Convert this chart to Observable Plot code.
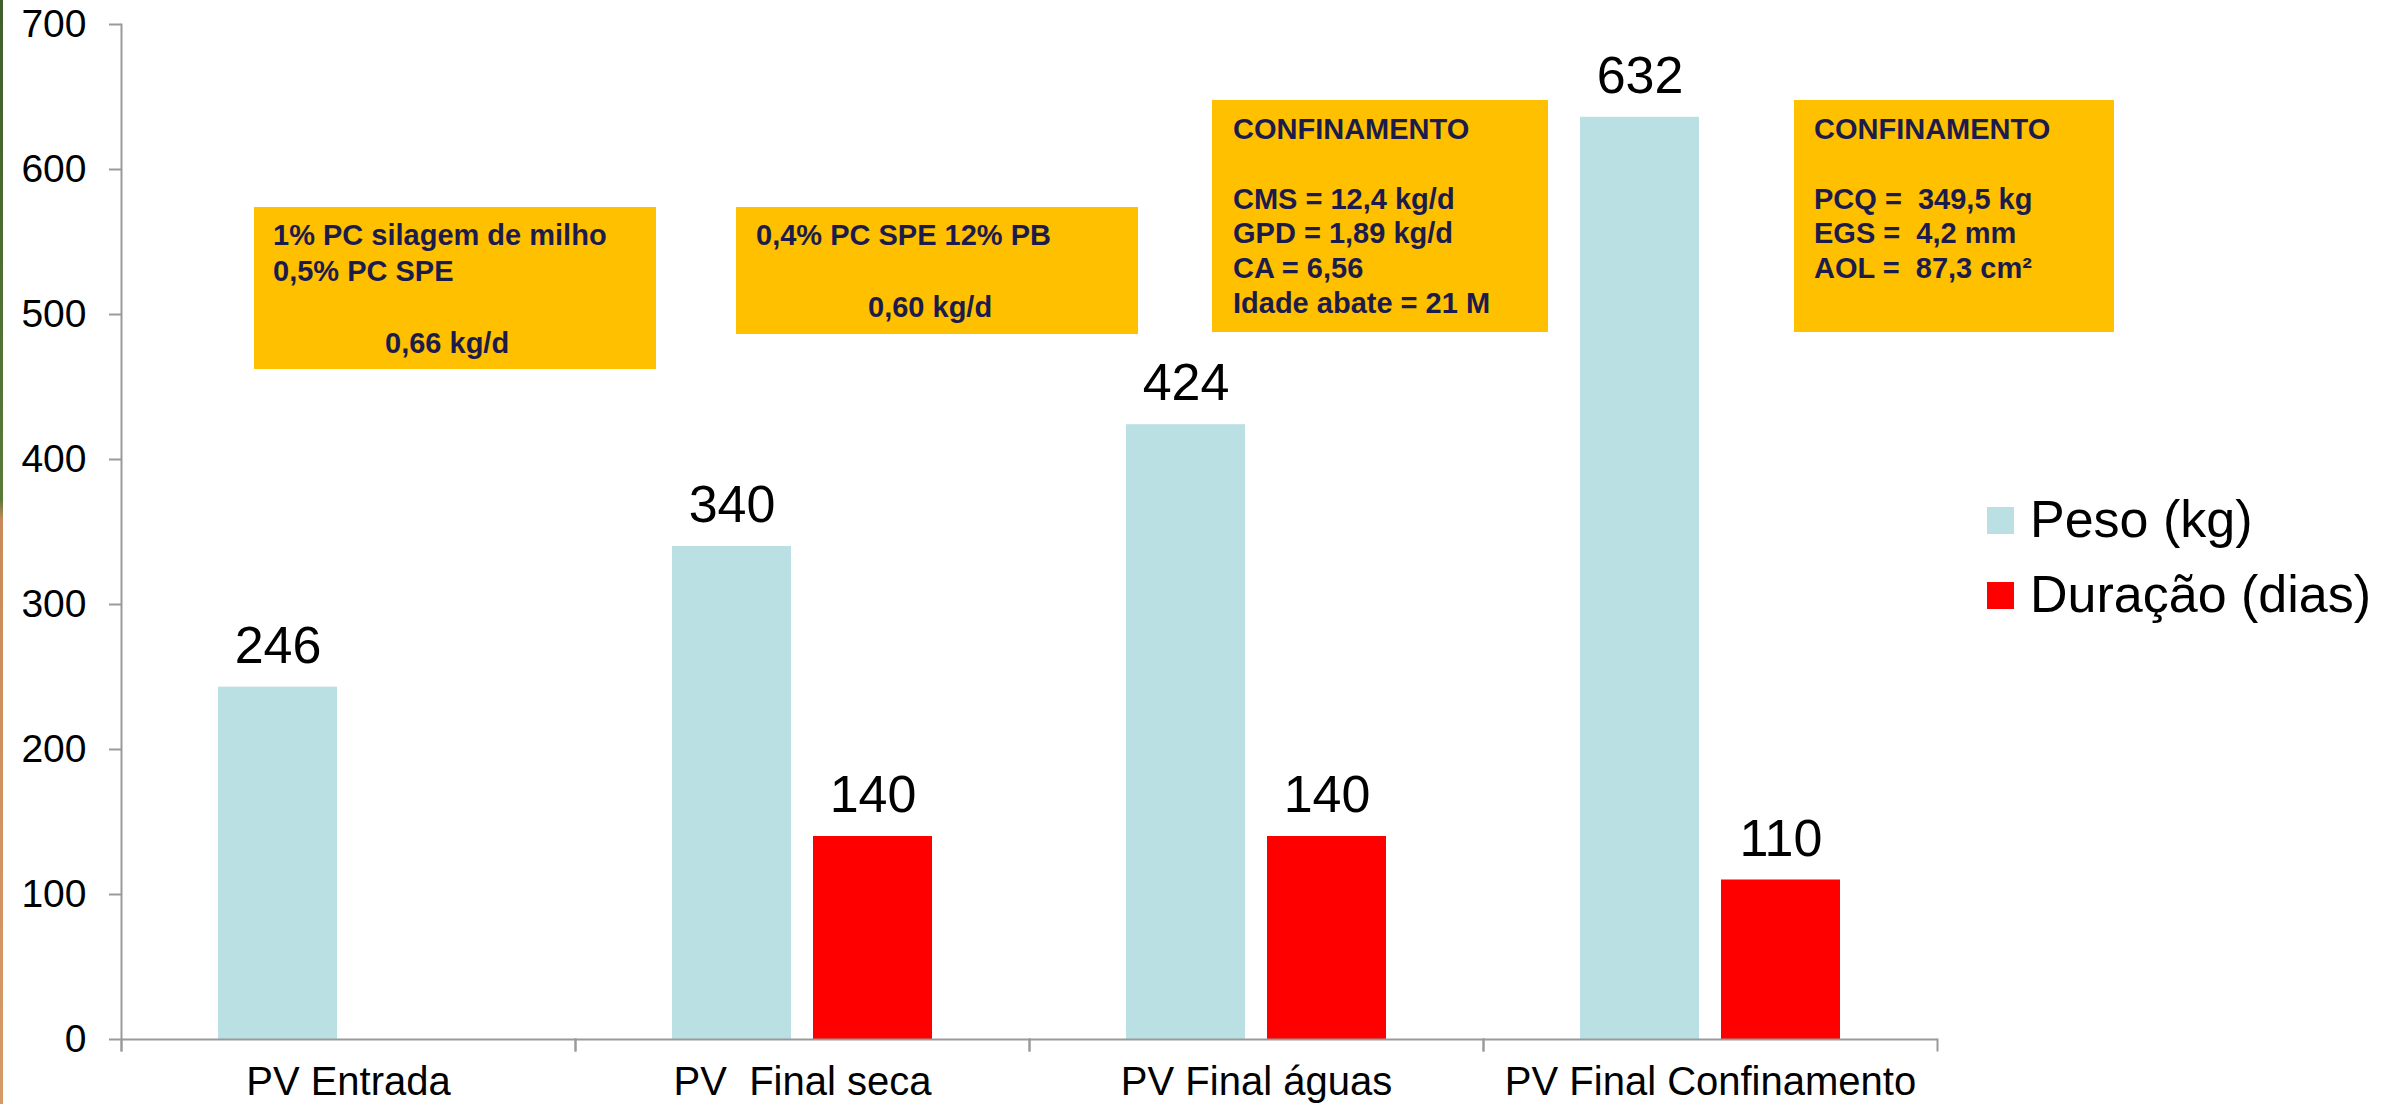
<!DOCTYPE html>
<html>
<head>
<meta charset="utf-8">
<script src="https://cdn.jsdelivr.net/npm/d3@7"></script>
<script src="https://cdn.jsdelivr.net/npm/@observablehq/plot@0.6"></script>
<style>
  html, body { margin: 0; padding: 0; background: #ffffff; }
  #wrap { position: relative; width: 2405px; height: 1104px; overflow: hidden; font-family: "Liberation Sans", Arial, sans-serif; }
  #strip { position: absolute; left: 0; top: 0; width: 3px; height: 1104px;
           background: linear-gradient(to bottom, #3f5f2c 0px, #5a7a3a 500px, #c98a5a 520px, #d69a66 1104px); }
  .box { position: absolute; background: #FFC000; color: #1c1c4c; font-weight: bold; font-size: 29px;
         white-space: pre; box-sizing: border-box; }
  .legend-sw { position: absolute; width: 27px; height: 27px; }
  .legend-tx { position: absolute; font-size: 52px; line-height: 60px; color: #000; white-space: pre; }
</style>
</head>
<body>
<div id="wrap"><div id="strip"></div></div>
<script>
// ---- data ----
const categories = ["PV Entrada", "PV\u00A0 Final seca", "PV Final águas", "PV Final Confinamento"];
const series = ["Peso (kg)", "Duração (dias)"];
const seriesColors = ["#BBE0E3", "#FF0000"];
const pesoValues = [243, 340, 424, 636];
const pesoLabels = ["246", "340", "424", "632"];
const duracaoValues = [null, 140, 140, 110];
const duracaoLabels = ["", "140", "140", "110"];
const yTicks = [0, 100, 200, 300, 400, 500, 600, 700];

const box1Lines = ["1% PC silagem de milho", "0,5% PC SPE", "", "0,66 kg/d"];
const box2Lines = ["0,4% PC SPE 12% PB", "", "0,60 kg/d"];
const box3Lines = ["CONFINAMENTO", "", "CMS = 12,4 kg/d", "GPD = 1,89 kg/d", "CA = 6,56", "Idade abate = 21 M"];
const box4Lines = ["CONFINAMENTO", "", "PCQ =  349,5 kg", "EGS =  4,2 mm", "AOL =  87,3 cm²"];

// ---- table ----
const rows = [];
categories.forEach((c, i) => {
  if (pesoValues[i] != null) rows.push({cat: c, series: series[0], value: pesoValues[i], label: pesoLabels[i]});
  if (duracaoValues[i] != null) rows.push({cat: c, series: series[1], value: duracaoValues[i], label: duracaoLabels[i]});
});

const W = 2405, H = 1104;
const mTop = 24, mBottom = 65, mLeft = 120, mRight = 467;
const frameH = H - mTop - mBottom;
const gray = "#9a9a9a";

const chart = Plot.plot({
  width: W, height: H,
  marginLeft: mLeft, marginRight: mRight, marginTop: mTop, marginBottom: mBottom,
  style: {fontFamily: "'Liberation Sans', Arial, sans-serif", background: "transparent", color: "#000"},
  fx: {domain: categories, padding: 0, label: null},
  x: {domain: series, paddingInner: 0.155, paddingOuter: 0.68, axis: null},
  y: {domain: [0, 700], label: null},
  color: {domain: series, range: seriesColors},
  marks: [
    Plot.barY(rows, {fx: "cat", x: "series", y: "value", fill: "series"}),
    Plot.text(rows, {fx: "cat", x: "series", y: "value", text: "label", fontSize: 52, lineAnchor: "middle", dy: -41, fill: "#000"}),
    Plot.ruleY([0], {stroke: gray, strokeWidth: 2}),
    Plot.frame({anchor: "left", facetAnchor: "left", stroke: gray, strokeWidth: 2, insetBottom: -11}),
    Plot.frame({anchor: "left", stroke: gray, strokeWidth: 2, insetTop: frameH, insetBottom: -11}),
    Plot.frame({anchor: "right", stroke: gray, strokeWidth: 2, insetTop: frameH, insetBottom: -11}),
    Plot.axisY({ticks: yTicks, tickSize: 12, tickPadding: 23, fontSize: 39, stroke: gray, strokeWidth: 2, fill: "#000", label: null}),
    Plot.axisFx({anchor: "bottom", tickSize: 0, tickPadding: 27, fontSize: 40, label: null, fill: "#000"})
  ]
});
chart.style.position = "absolute";
chart.style.left = "0px";
chart.style.top = "0px";
const wrap = document.getElementById("wrap");
wrap.appendChild(chart);

// ---- annotation boxes ----
function makeBox(lines, opts) {
  const d = document.createElement("div");
  d.className = "box";
  Object.assign(d.style, {
    left: opts.left + "px", top: opts.top + "px", width: opts.width + "px", height: opts.height + "px",
    paddingLeft: opts.padL + "px", paddingTop: opts.padT + "px", lineHeight: opts.lh + "px"
  });
  lines.forEach((t, i) => {
    const l = document.createElement("div");
    l.style.height = opts.lh + "px";
    if (opts.indent && opts.indent[i]) l.style.paddingLeft = opts.indent[i] + "px";
    l.textContent = t;
    d.appendChild(l);
  });
  wrap.appendChild(d);
}
makeBox(box1Lines, {left: 254, top: 207, width: 402, height: 162, padL: 19, padT: 10, lh: 36, indent: {3: 112}});
makeBox(box2Lines, {left: 736, top: 207, width: 402, height: 127, padL: 20, padT: 10, lh: 36, indent: {2: 112}});
makeBox(box3Lines, {left: 1212, top: 100, width: 336, height: 232, padL: 21, padT: 12, lh: 34.8});
makeBox(box4Lines, {left: 1794, top: 100, width: 320, height: 232, padL: 20, padT: 12, lh: 34.8});

// ---- legend ----
series.forEach((s, i) => {
  const sw = document.createElement("div");
  sw.className = "legend-sw";
  sw.style.left = "1987px";
  sw.style.top = (507 + i * 75) + "px";
  sw.style.background = seriesColors[i];
  wrap.appendChild(sw);
  const tx = document.createElement("div");
  tx.className = "legend-tx";
  tx.style.left = "2030px";
  tx.style.top = (489 + i * 75) + "px";
  tx.textContent = s;
  wrap.appendChild(tx);
});
</script>
</body>
</html>
